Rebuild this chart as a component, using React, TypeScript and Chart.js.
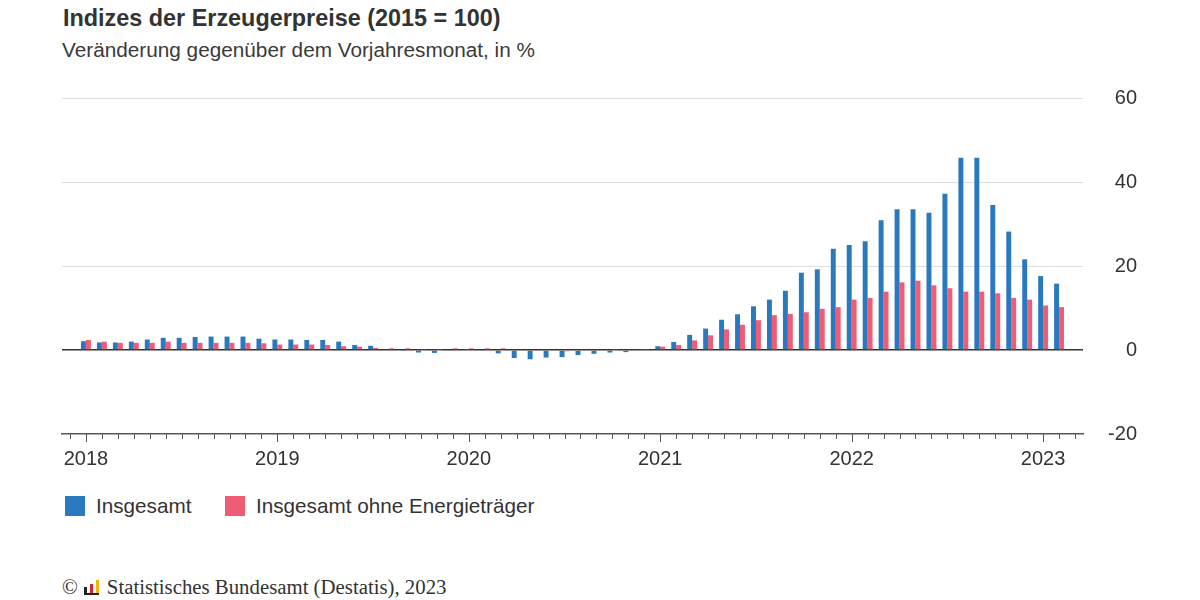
import React, { useEffect, useRef } from 'react';
import { Chart, ChartConfiguration, registerables } from 'chart.js';

Chart.register(...registerables);

// one category per month, Dec 2017 and Mar 2023 are empty padding slots
const years = ['2018', '2019', '2020', '2021', '2022', '2023'];
const monthNums = ['01', '02', '03', '04', '05', '06', '07', '08', '09', '10', '11', '12'];

const categories: string[] = ['2017-12'];
years.forEach(y => {
  monthNums.forEach(m => {
    if (y === '2023' && Number(m) > 3) return;
    categories.push(`${y}-${m}`);
  });
});

// Insgesamt, Veränderung gegenüber Vorjahresmonat in %
const insgesamt = [
  null,
  2.1, 1.8, 1.8, 2.0, 2.5, 2.9, 2.9, 3.1, 3.2, 3.2, 3.2, 2.7,
  2.5, 2.5, 2.4, 2.4, 2.0, 1.2, 1.0, 0.2, -0.1, -0.6, -0.7, -0.2,
  0.1, -0.1, -0.8, -1.9, -2.2, -1.8, -1.7, -1.2, -0.9, -0.6, -0.5, 0.1,
  0.9, 1.9, 3.6, 5.1, 7.2, 8.5, 10.4, 12.0, 14.1, 18.4, 19.2, 24.1,
  25.0, 25.9, 30.9, 33.5, 33.5, 32.7, 37.2, 45.8, 45.8, 34.5, 28.2, 21.6,
  17.6, 15.8,
  null,
];

// Insgesamt ohne Energieträger
const ohneEnergie = [
  null,
  2.4, 2.0, 1.7, 1.7, 1.7, 2.0, 1.7, 1.7, 1.7, 1.7, 1.7, 1.6,
  1.3, 1.3, 1.3, 1.2, 0.9, 0.8, 0.5, 0.4, 0.4, 0.1, 0.1, 0.4,
  0.4, 0.4, 0.4, 0.0, -0.1, -0.2, -0.3, -0.2, 0.0, 0.1, 0.0, 0.1,
  0.8, 1.2, 2.3, 3.5, 4.9, 6.0, 7.1, 8.3, 8.6, 9.0, 9.8, 10.2,
  12.0, 12.4, 13.9, 16.1, 16.5, 15.4, 14.7, 13.9, 13.9, 13.5, 12.4, 12.0,
  10.6, 10.2,
  null,
];

const yTicks = [-20, 0, 20, 40, 60];

const BLUE = '#2a79be';
const RED = '#ef5d74';
const TEXT = '#333333';
const SANS = '"Liberation Sans", Arial, Helvetica, sans-serif';

// short tick per month, longer one at each January
const monthTicks = {
  id: 'monthTicks',
  afterDraw(chart: Chart) {
    const xs = chart.scales.x;
    const bottom = chart.chartArea.bottom;
    const ctx = chart.ctx;
    ctx.save();
    ctx.strokeStyle = '#555555';
    ctx.lineWidth = 1;
    categories.forEach((c, i) => {
      const px = Math.round(xs.getPixelForTick(i)) + 0.5;
      const len = c.endsWith('-01') ? 8 : 5;
      ctx.beginPath();
      ctx.moveTo(px, bottom);
      ctx.lineTo(px, bottom + len);
      ctx.stroke();
    });
    ctx.restore();
  },
};

const ErzeugerpreiseChart: React.FC = () => {
  const chartRef = useRef<HTMLCanvasElement | null>(null);
  const chartInstance = useRef<Chart | null>(null);

  useEffect(() => {
    if (!chartRef.current) return;
    const ctx = chartRef.current.getContext('2d');
    if (!ctx) return;

    if (chartInstance.current) {
      chartInstance.current.destroy();
    }

    const config: ChartConfiguration = {
      type: 'bar',
      data: {
        labels: categories,
        datasets: [
          {
            label: 'Insgesamt',
            data: insgesamt,
            backgroundColor: BLUE,
            categoryPercentage: 0.62,
            barPercentage: 1,
          },
          {
            label: 'Insgesamt ohne Energieträger',
            data: ohneEnergie,
            backgroundColor: RED,
            categoryPercentage: 0.62,
            barPercentage: 1,
          },
        ],
      },
      options: {
        responsive: false,
        animation: false,
        layout: { autoPadding: false, padding: { left: 62, top: 18, right: 63, bottom: 0 } },
        plugins: {
          legend: { display: false },
          title: { display: false },
          tooltip: { enabled: false },
        },
        scales: {
          x: {
            grid: { display: false, drawTicks: false },
            border: { display: true, color: '#555555', width: 1.5 },
            ticks: {
              autoSkip: false,
              maxRotation: 0,
              padding: 13,
              color: TEXT,
              font: { family: SANS, size: 20 },
              callback: (_v, i) => (categories[i].endsWith('-01') ? categories[i].slice(0, 4) : ''),
            },
            afterFit: scale => {
              scale.height = 46;
            },
          },
          y: {
            position: 'right',
            min: yTicks[0],
            max: yTicks[yTicks.length - 1],
            afterBuildTicks: scale => {
              scale.ticks = yTicks.map(v => ({ value: v }));
            },
            border: { display: false },
            grid: {
              drawTicks: false,
              lineWidth: c => (c.tick && c.tick.value === 0 ? 1.5 : 1),
              color: c => {
                if (!c.tick) return '#dddddd';
                if (c.tick.value === 0) return '#333333';
                if (c.tick.value === yTicks[0]) return 'rgba(0,0,0,0)';
                return '#dddddd';
              },
            },
            ticks: {
              // right-aligned at the axis box's right edge
              crossAlign: 'far',
              padding: 0,
              color: TEXT,
              font: { family: SANS, size: 20 },
            },
            afterFit: scale => {
              scale.width = 54;
            },
          },
        },
      },
      plugins: [monthTicks],
    };

    chartInstance.current = new Chart(ctx, config);

    return () => {
      if (chartInstance.current) {
        chartInstance.current.destroy();
        chartInstance.current = null;
      }
    };
  }, []);

  return <canvas ref={chartRef} width={1200} height={400} style={{ display: 'block', width: 1200, height: 400 }} />;
};

const LegendItem: React.FC<{ color: string; text: string; left: number }> = ({ color, text, left }) => (
  <div style={{ position: 'absolute', left, top: 496, display: 'flex', alignItems: 'center' }}>
    <span style={{ width: 20, height: 20, background: color, display: 'inline-block' }} />
    <span style={{ marginLeft: 11, fontSize: 20.7, lineHeight: '20px', color: TEXT }}>{text}</span>
  </div>
);

const App: React.FC = () => (
  <div
    style={{
      position: 'absolute',
      left: 0,
      top: 0,
      width: 1200,
      height: 600,
      background: '#ffffff',
      fontFamily: SANS,
      overflow: 'hidden',
    }}
  >
    <div style={{ position: 'absolute', left: 63, top: 7, fontSize: 23.4, lineHeight: 1, fontWeight: 'bold', color: TEXT }}>
      Indizes der Erzeugerpreise (2015 = 100)
    </div>
    <div style={{ position: 'absolute', left: 62, top: 40, fontSize: 20.75, lineHeight: 1, color: '#3a3a3a' }}>
      Veränderung gegenüber dem Vorjahresmonat, in %
    </div>

    <div style={{ position: 'absolute', left: 0, top: 80 }}>
      <ErzeugerpreiseChart />
    </div>

    <LegendItem color={BLUE} text="Insgesamt" left={65} />
    <LegendItem color={RED} text="Insgesamt ohne Energieträger" left={225} />

    <div
      style={{
        position: 'absolute',
        left: 62,
        top: 577,
        fontFamily: '"Liberation Serif", "Times New Roman", serif',
        fontSize: 20.8,
        lineHeight: 1,
        color: '#333333',
        display: 'flex',
        alignItems: 'flex-end',
      }}
    >
      <span>©</span>
      <span style={{ display: 'inline-flex', alignItems: 'flex-end', margin: '0 8px 3px 6px', height: 16, borderBottom: '2px solid #222' }}>
        <span style={{ width: 3, height: 6, background: '#222', marginRight: 3 }} />
        <span style={{ width: 3, height: 9, background: '#d9262e', marginRight: 3 }} />
        <span style={{ width: 3, height: 13, background: '#f2b705' }} />
      </span>
      <span>Statistisches Bundesamt (Destatis), 2023</span>
    </div>
  </div>
);

export default App;
